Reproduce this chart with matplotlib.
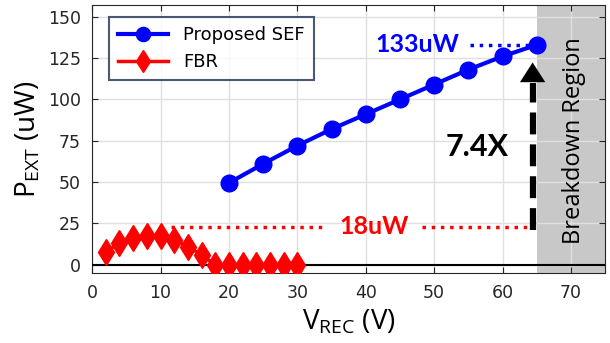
import matplotlib
matplotlib.use("Agg")
import matplotlib.pyplot as plt

# data
sef_v = [20, 25, 30, 35, 40, 45, 50, 55, 60, 65]
sef_p = [49.5, 61, 72, 82, 91, 100, 109, 118, 126, 133]
fbr_v = [2, 4, 6, 8, 10, 12, 14, 16, 18, 20, 22, 24, 26, 28, 30]
fbr_p = [8, 13, 16, 17.5, 17.5, 15, 11, 6, 0, 0, 0, 0, 0, 0, 0]
xticks = [0, 10, 20, 30, 40, 50, 60, 70]
yticks = [0, 25, 50, 75, 100, 125, 150]
breakdown_v = 65
fbr_level = 23
sef_level = 133

fig = plt.figure(figsize=(6.1, 3.43), dpi=100)
ax = fig.add_axes([0.151, 0.204, 0.841, 0.781])

ax.plot(sef_v, sef_p, '-o', color='#0000ff', lw=3, ms=12, label='Proposed SEF', zorder=4)
ax.plot(fbr_v, fbr_p, '-d', color='#ff0000', lw=2.5, ms=13, label='FBR', zorder=4)
ax.axhline(0, color='black', lw=1.5, zorder=3)

# breakdown region
ax.axvspan(breakdown_v, 75, color='#c8c8c8', lw=0, zorder=0.3)
ax.text(70.4, 75, 'Breakdown Region', rotation=90, ha='center', va='center',
        fontsize=17, family='Open Sans', zorder=6)

# annotations
ax.plot([11.5, 34.3], [fbr_level, fbr_level], ':', color='red', lw=2.5, zorder=3)
ax.plot([48.2, 64.4], [fbr_level, fbr_level], ':', color='red', lw=2.5, zorder=3)
ax.text(41.3, fbr_level, '18uW', color='red', fontsize=18, fontweight='bold',
        family='Lato', ha='center', va='center')
ax.plot([55.3, 64.2], [sef_level, sef_level], ':', color='blue', lw=2.5, zorder=3)
ax.text(47.5, sef_level, '133uW', color='blue', fontsize=18, fontweight='bold',
        family='Lato', ha='center', va='center')
ax.text(56.3, 71, '7.4X', color='black', fontsize=22, fontweight='bold',
        family='Lato', ha='center', va='center')
ax.plot([breakdown_v - 0.6] * 2, [21, 110], color='black', lw=4.5,
        dashes=(3.5, 1.6), zorder=6)
ax.annotate('', xy=(breakdown_v - 0.6, 124), xytext=(breakdown_v - 0.6, 109),
            arrowprops=dict(arrowstyle='-|>,head_width=0.9,head_length=1.4',
                            color='black', lw=0.1), zorder=6)

ax.set_xlim(0, 75)
ax.set_ylim(-5, 157)
ax.set_xticks(xticks)
ax.set_yticks(yticks)
ax.grid(True, color='#e0e0e0', lw=1)
ax.set_axisbelow(True)
ax.tick_params(direction='in', top=True, right=True, labelsize=12.5, length=4, pad=8,
               colors='#262626')
for s in ax.spines.values():
    s.set_color('#262626')

ax.set_xlabel(r'V$_{\mathregular{REC}}$ (V)', fontsize=20, family='Open Sans', labelpad=4)
ax.set_ylabel(r'P$_{\mathregular{EXT}}$ (uW)', fontsize=20, family='Open Sans', labelpad=4)

leg = ax.legend(loc='upper left', fontsize=13, frameon=True, fancybox=False,
                borderpad=0.5, handlelength=2.8, markerscale=0.85,
                bbox_to_anchor=(0.015, 0.99))
leg.get_frame().set_edgecolor('#1f2f4f')
leg.get_frame().set_linewidth(1.5)
leg.set_zorder(7)

fig.savefig('out.png', dpi=100)
